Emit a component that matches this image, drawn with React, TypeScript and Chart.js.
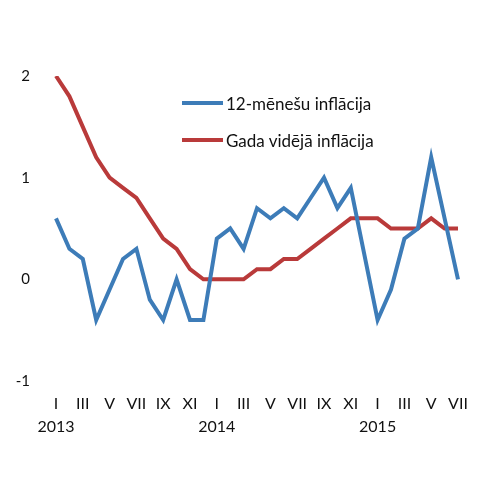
import { useEffect, useRef } from "react"
import { Chart, registerables, type ChartConfiguration } from "chart.js"

Chart.register(...registerables)

// months Jan 2013 .. Jul 2015
const months = ["I", "II", "III", "IV", "V", "VI", "VII", "VIII", "IX", "X", "XI", "XII"]
const years = ["2013", "2014", "2015"]
const labels: string[] = []
years.forEach((y) => months.forEach((m) => labels.push(m + " " + y)))
labels.splice(31)

const inflation12m = [
  0.6, 0.3, 0.2, -0.4, -0.1, 0.2, 0.3, -0.2, -0.4, 0.0, -0.4, -0.4,
  0.4, 0.5, 0.3, 0.7, 0.6, 0.7, 0.6, 0.8, 1.0, 0.7, 0.9, 0.25,
  -0.4, -0.1, 0.4, 0.5, 1.2, 0.6, 0.0,
]
const inflationAvg = [
  2.0, 1.8, 1.5, 1.2, 1.0, 0.9, 0.8, 0.6, 0.4, 0.3, 0.1, 0.0,
  0.0, 0.0, 0.0, 0.1, 0.1, 0.2, 0.2, 0.3, 0.4, 0.5, 0.6, 0.6,
  0.6, 0.5, 0.5, 0.5, 0.6, 0.5, 0.5,
]

const BLUE = "#3d7cb8"
const RED = "#b93a3a"
const FONT = "Lato, 'Open Sans', sans-serif"

export default function App() {
  const canvasRef = useRef<HTMLCanvasElement | null>(null)
  const chartRef = useRef<Chart | null>(null)

  useEffect(() => {
    const ctx = canvasRef.current?.getContext("2d")
    if (!ctx) return

    const config: ChartConfiguration<"line"> = {
      type: "line",
      data: {
        labels,
        datasets: [
          {
            label: "12-mēnešu inflācija",
            data: inflation12m,
            borderColor: BLUE,
            borderWidth: 4,
            pointRadius: 0,
            tension: 0,
          },
          {
            label: "Gada vidējā inflācija",
            data: inflationAvg,
            borderColor: RED,
            borderWidth: 4,
            pointRadius: 0,
            tension: 0,
          },
        ],
      },
      options: {
        animation: false,
        responsive: true,
        maintainAspectRatio: false,
        layout: { padding: { top: 76, right: 42, left: 0, bottom: 0 } },
        plugins: {
          legend: { display: false },
          tooltip: { enabled: false },
        },
        scales: {
          x: {
            offset: false,
            grid: { display: false, drawTicks: false },
            border: { display: false },
            afterFit: (s) => {
              s.height = 119
            },
            ticks: {
              autoSkip: false,
              maxRotation: 0,
              padding: 11,
              color: "#111",
              font: { family: FONT, size: 16, lineHeight: 1.45 },
              callback: (_v, i) => {
                if (i % 2 !== 0) return ""
                const m = months[i % 12]
                return i % 12 === 0 ? [m, years[i / 12]] : m
              },
            },
          },
          y: {
            min: -1,
            max: 2,
            grid: { display: false, drawTicks: false },
            border: { display: false },
            afterFit: (s) => {
              s.width = 56
            },
            ticks: {
              stepSize: 1,
              padding: 26,
              color: "#111",
              font: { family: FONT, size: 15 },
            },
          },
        },
      },
    }

    chartRef.current = new Chart(ctx, config)
    return () => {
      chartRef.current?.destroy()
      chartRef.current = null
    }
  }, [])

  const legendItem = (color: string, text: string, top: number) => (
    <div
      style={{
        position: "absolute",
        left: 182,
        top: top - 10,
        height: 20,
        display: "flex",
        alignItems: "center",
        fontFamily: FONT,
        fontSize: 17,
        color: "#111",
        whiteSpace: "nowrap",
      }}
    >
      <span style={{ display: "inline-block", width: 41, height: 4, background: color, marginRight: 3 }} />
      {text}
    </div>
  )

  return (
    <div style={{ position: "absolute", left: 0, top: 0, width: 500, height: 500, background: "#fff" }}>
      <canvas ref={canvasRef} />
      {legendItem(BLUE, "12-mēnešu inflācija", 103)}
      {legendItem(RED, "Gada vidējā inflācija", 140)}
    </div>
  )
}
